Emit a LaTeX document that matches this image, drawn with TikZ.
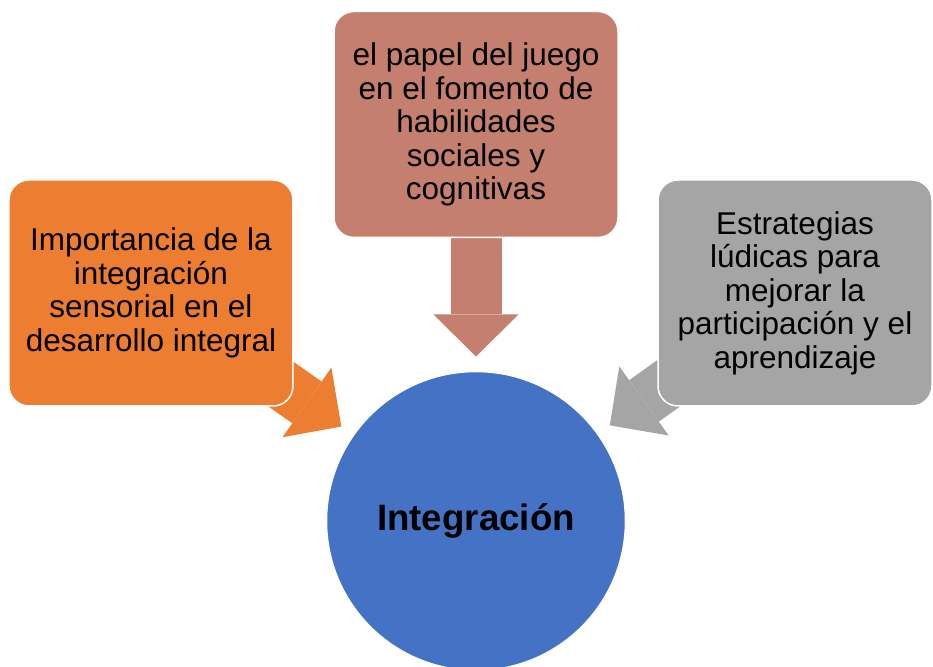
\documentclass[tikz,border=0pt]{standalone}
\usepackage{fontspec}
\setmainfont{Liberation Sans}
\usetikzlibrary{positioning,arrows.meta,backgrounds}
\definecolor{naranja}{HTML}{ED7D31}
\definecolor{teja}{HTML}{C47F6E}
\definecolor{gris}{HTML}{A5A5A5}
\definecolor{azul}{HTML}{4472C4}
\begin{document}
\begin{tikzpicture}[
        caja/.style={rectangle, draw=white, line width=1.5pt, rounded corners=20pt, minimum width=284pt, minimum height=226pt, align=center, outer sep=0pt, font=\fontsize{31.5}{33.5}\selectfont},
        flecha/.style={line width=51pt, -{Triangle[length=42pt, width=85pt, line width=0pt]}, shorten >=15pt}
    ]
        \useasboundingbox (-476pt,-145pt) rectangle (457pt,521pt);
        
        % Centro
        \node[circle, draw=white, line width=1.5pt, fill=azul, minimum size=299pt, outer sep=0pt, font=\fontsize{36.7}{44}\selectfont\bfseries] (integ) at (0,0) {Integración};
        
        % Juego
        \node[caja, fill=teja, above=134pt of integ] (juego) {el papel del juego\\en el fomento de\\habilidades\\sociales y\\cognitivas};
        
        % Integracion sensorial
        \node[caja, fill=naranja, left=41pt of juego, yshift=-168.5pt] (sensorial) {Importancia de la\\integración\\sensorial en el\\desarrollo integral};
        
        % Estrategias ludicas
        \node[caja, fill=gris, minimum width=274pt, right=40pt of juego, yshift=-168.5pt] (ludicas) {Estrategias\\lúdicas para\\mejorar la\\participación y el\\aprendizaje};
        
        % Flechas
        \begin{pgfonlayer}{background}
            \draw[flecha, naranja] (sensorial.center) -- (integ);
            \draw[flecha, teja] (juego.center) -- (integ);
            \draw[flecha, gris] (ludicas.center) -- (integ);
        \end{pgfonlayer}
    \end{tikzpicture}
\end{document}
